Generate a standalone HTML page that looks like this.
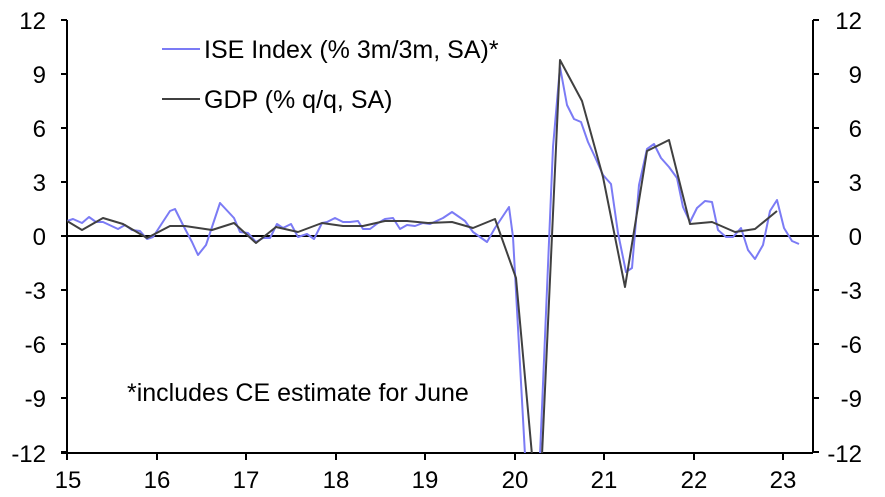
<!DOCTYPE html>
<html><head><meta charset="utf-8"><style>html,body{margin:0;padding:0;width:885px;height:497px;overflow:hidden;background:#fff}svg{display:block}text{font-family:"Liberation Sans",Arial,sans-serif;font-size:24px;fill:#000}.l{font-size:25px}</style></head><body>
<svg width="885" height="497" viewBox="0 0 885 497">
<defs><clipPath id="c"><rect x="67" y="18" width="746" height="435"/></clipPath></defs>
<g stroke="#000" stroke-width="2" fill="none">
<line x1="67" y1="20" x2="67" y2="453"/>
<line x1="813" y1="20" x2="813" y2="453"/>
<line x1="61" y1="453" x2="813" y2="453"/>
<line x1="67" y1="236" x2="813" y2="236"/>
<path d="M61 20H67M61 74H67M61 128H67M61 182H67M61 236H67M61 290H67M61 344H67M61 398H67M61 452H67"/>
<path d="M813 20H819M813 74H819M813 128H819M813 182H819M813 236H819M813 290H819M813 344H819M813 398H819M813 452H819"/>
<path d="M67 453V460M157 453V460M246 453V460M336 453V460M425 453V460M515 453V460M604 453V460M694 453V460M783 453V460"/>
</g>
<g clip-path="url(#c)" fill="none" stroke-width="2" stroke-linejoin="round">
<polyline stroke="#7b7bf5" points="67,221 73,219 82,223 89,217 96,222 103,222 118,229 125,225 132,230 140,231 147,239 153,237 170,211 175,209 183,225 192,242 198,255 206,245 220,203 234,218 240,232 248,233 256,242 263,238 270,238 277,224 283,228 291,224 298,237 307,234 314,239 322,223 327,222 335,218 343,222 350,222 358,221 363,229 370,229 378,223 385,219 393,218 400,229 407,225 415,226 423,223 430,224 443,218 452,212 465,221 473,232 480,237 487,242 495,228 509,207 513,237 525,455 527,460 538,460 540,455 553,147 560,67 567,105 574,119 581,122 588,142 595,157 603,175 611,184 618,233 626,272 632,268 639,185 647,149 654,144 661,158 669,167 677,178 683,207 690,222 697,208 705,201 712,202 718,230 726,237 733,237 741,228 748,250 755,259 763,245 770,211 777,200 784,228 792,241 799,244"/>
<polyline stroke="#404040" points="67,221 82,230 103,218 123,224 147,238 170,226 185,226 212,230 234,223 256,243 276,227 298,232 322,223 343,226 363,226 385,221 407,221 428,223 452,222 473,228 495,219 516,278 532,455 537,460 542,455 560,60 582,101 603,177 625,287 647,151 669,140 690,224 712,222 735,232 755,229 777,211"/>
</g>
<g text-anchor="end"><text x="46" y="29">12</text><text x="46" y="83">9</text><text x="46" y="137">6</text><text x="46" y="191">3</text><text x="46" y="245">0</text><text x="46" y="299">-3</text><text x="46" y="353">-6</text><text x="46" y="407">-9</text><text x="46" y="462">-12</text></g>
<g text-anchor="end"><text x="862" y="29">12</text><text x="862" y="83">9</text><text x="862" y="137">6</text><text x="862" y="191">3</text><text x="862" y="245">0</text><text x="862" y="299">-3</text><text x="862" y="353">-6</text><text x="862" y="407">-9</text><text x="862" y="462">-12</text></g>
<g text-anchor="middle"><text x="68" y="488">15</text><text x="157" y="488">16</text><text x="246" y="488">17</text><text x="336" y="488">18</text><text x="425" y="488">19</text><text x="515" y="488">20</text><text x="604" y="488">21</text><text x="694" y="488">22</text><text x="783" y="488">23</text></g>
<line x1="162" y1="49" x2="200" y2="49" stroke="#7b7bf5" stroke-width="2"/>
<line x1="162" y1="99" x2="200" y2="99" stroke="#404040" stroke-width="2"/>
<text class="l" x="204" y="58">ISE Index (% 3m/3m, SA)*</text>
<text class="l" x="204" y="108">GDP (% q/q, SA)</text>
<text class="l" x="127" y="401">*includes CE estimate for June</text>
</svg>
</body></html>
